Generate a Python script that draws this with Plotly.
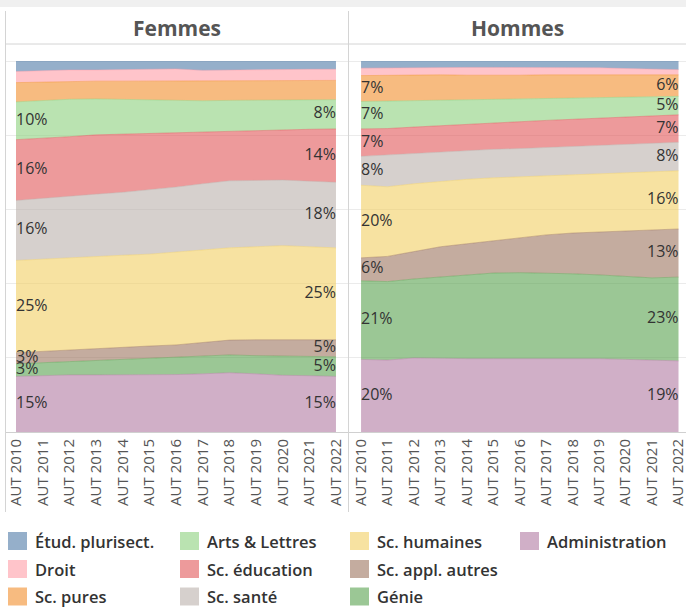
import plotly.graph_objects as go

# ---------------- data ----------------
years = list(range(2010, 2023))
tick_labels = [f"AUT {y}" for y in years]

# categories, bottom of stack first
categories = ["Administration", "Génie", "Sc. appl. autres", "Sc. humaines", "Sc. santé",
              "Sc. éducation", "Arts & Lettres", "Sc. pures", "Droit", "Étud. plurisect."]
base_colors = ["#b07aa1", "#59a14f", "#9c755f", "#f1ce63", "#bab0ac",
               "#e15759", "#8cd17d", "#f28e2b", "#ff9da7", "#4e79a7"]

femmes_admin   = [15.0, 15.3, 15.4, 15.4, 15.4, 15.4, 15.5, 15.7, 16.0, 15.7, 15.3, 15.2, 15.0]
femmes_genie   = [3.4, 3.5, 3.6, 3.9, 4.2, 4.5, 4.7, 4.8, 4.8, 4.9, 5.2, 5.2, 5.3]
femmes_appl    = [3.0, 3.0, 3.2, 3.3, 3.3, 3.3, 3.3, 3.6, 4.0, 4.3, 4.4, 4.5, 4.6]
femmes_hum     = [24.9, 24.9, 24.8, 24.8, 24.8, 24.8, 25.1, 25.1, 24.9, 25.1, 25.4, 25.1, 24.8]
femmes_sante   = [16.2, 16.4, 16.7, 16.8, 17.0, 17.3, 17.5, 17.8, 18.1, 17.9, 17.7, 17.7, 17.7]
femmes_educ    = [16.4, 16.1, 16.0, 16.0, 15.7, 15.4, 14.8, 14.1, 13.4, 13.5, 13.5, 14.0, 14.4]
femmes_arts    = [10.2, 10.3, 10.1, 9.7, 9.4, 8.9, 8.5, 8.3, 8.3, 8.2, 8.1, 8.0, 7.9]
femmes_pures   = [5.2, 5.0, 4.8, 4.8, 4.9, 5.1, 5.3, 5.3, 5.3, 5.2, 5.3, 5.2, 5.2]
femmes_droit   = [3.0, 3.1, 3.1, 3.0, 3.1, 3.2, 3.3, 2.9, 2.9, 3.1, 3.0, 3.0, 3.0]
femmes_pluri   = [2.7, 2.4, 2.3, 2.3, 2.2, 2.1, 2.0, 2.4, 2.3, 2.1, 2.1, 2.1, 2.1]

hommes_admin   = [19.6, 19.4, 20.0, 19.8, 19.8, 19.8, 19.8, 19.8, 20.0, 19.8, 19.6, 19.4, 19.2]
hommes_genie   = [21.2, 21.2, 21.3, 22.1, 22.7, 23.1, 23.2, 23.1, 22.7, 22.6, 22.4, 22.2, 22.6]
hommes_appl    = [6.2, 6.8, 7.4, 8.1, 8.3, 8.7, 9.5, 10.3, 11.0, 11.6, 12.3, 13.0, 13.0]
hommes_hum     = [19.6, 18.8, 18.3, 17.7, 17.4, 17.0, 16.4, 16.0, 15.7, 15.7, 15.7, 15.6, 15.7]
hommes_sante   = [7.8, 8.6, 8.3, 8.0, 7.8, 7.7, 7.6, 7.6, 7.6, 7.6, 7.6, 7.7, 7.7]
hommes_educ    = [7.4, 7.1, 7.0, 7.0, 7.1, 7.2, 7.3, 7.3, 7.4, 7.4, 7.4, 7.4, 7.4]
hommes_arts    = [7.4, 7.4, 7.1, 6.9, 6.7, 6.4, 6.2, 6.0, 5.8, 5.6, 5.4, 5.2, 5.0]
hommes_pures   = [7.0, 7.0, 7.0, 6.8, 6.5, 6.3, 6.3, 6.3, 6.2, 6.1, 6.0, 5.9, 5.8]
hommes_droit   = [2.0, 2.0, 1.9, 2.0, 2.1, 2.2, 2.1, 2.0, 1.9, 1.9, 1.7, 1.5, 1.4]
hommes_pluri   = [1.8, 1.7, 1.7, 1.6, 1.6, 1.6, 1.6, 1.6, 1.7, 1.7, 1.9, 2.1, 2.2]

femmes = [femmes_admin, femmes_genie, femmes_appl, femmes_hum, femmes_sante,
          femmes_educ, femmes_arts, femmes_pures, femmes_droit, femmes_pluri]
hommes = [hommes_admin, hommes_genie, hommes_appl, hommes_hum, hommes_sante,
          hommes_educ, hommes_arts, hommes_pures, hommes_droit, hommes_pluri]

panel_titles = ["Femmes", "Hommes"]
labelled_femmes = ["Administration", "Génie", "Sc. appl. autres", "Sc. humaines",
                   "Sc. santé", "Sc. éducation", "Arts & Lettres"]
labelled_hommes = labelled_femmes + ["Sc. pures"]

# ---------------- helpers ----------------
def rgba(hexc, a):
    h = hexc.lstrip("#")
    r, g, b = int(h[0:2], 16), int(h[2:4], 16), int(h[4:6], 16)
    return f"rgba({r},{g},{b},{a})"

W, H = 686, 608
ML, MR, MT, MB = 5, 0, 44, 176
PW = W - ML - MR
PH = H - MT - MB
Y100_PX = 61.5
YTOP = 100 * PH / (MT + PH - Y100_PX)

def px_x(x):
    return (x - ML) / PW

def px_y(y):
    return 1 - (y - MT) / PH

FONT = "Open Sans"
fig = go.Figure()

panels = [(femmes, labelled_femmes, "x", "y", "f"), (hommes, labelled_hommes, "x2", "y2", "h")]
for data, labelled, xa, ya, grp in panels:
    totals = [sum(s[i] for s in data) for i in range(len(years))]
    norm = [[v / totals[i] * 100 for i, v in enumerate(s)] for s in data]
    for k, cat in enumerate(categories):
        fig.add_trace(go.Scatter(
            x=years, y=data[k], stackgroup=grp, groupnorm="percent" if k == 0 else None,
            mode="lines", line=dict(width=0.8, color=rgba(base_colors[k], 0.55)),
            fillcolor=rgba(base_colors[k], 0.6), name=cat, showlegend=False,
            xaxis=xa, yaxis=ya, hoverinfo="skip"))
    # labels
    cum = [0.0] * len(years)
    mids = []
    for k in range(len(categories)):
        m = [cum[i] + norm[k][i] / 2 for i in range(len(years))]
        cum = [cum[i] + norm[k][i] for i in range(len(years))]
        mids.append(m)
    for idx, pos in ((0, "middle right"), (-1, "middle left")):
        xs, ys, ts = [], [], []
        for k, cat in enumerate(categories):
            if cat in labelled:
                xs.append(years[idx])
                ys.append(mids[k][idx])
                ts.append(f"{round(norm[k][idx])}%")
        fig.add_trace(go.Scatter(
            x=xs, y=ys, text=ts, mode="text", textposition=pos,
            textfont=dict(family=FONT, size=16, color="#333333"),
            showlegend=False, xaxis=xa, yaxis=ya, hoverinfo="skip", cliponaxis=False))

axis_common = dict(tickmode="array", tickvals=years, ticktext=tick_labels, tickangle=-90,
                   tickfont=dict(family=FONT, size=15, color="#555555"),
                   ticklabeloverflow="allow",
                   showgrid=False, zeroline=False, showline=True, linecolor="#d0d0d0",
                   linewidth=1, ticks="", fixedrange=True)
yaxis_common = dict(range=[0, YTOP], tickvals=[0, 20, 40, 60, 80, 100], showticklabels=False,
                    showgrid=True, gridcolor="#ebebeb", gridwidth=1, zeroline=False,
                    showline=False, ticks="", fixedrange=True)

split = px_x(348.5)
fig.update_layout(
    width=W, height=H, margin=dict(l=ML, r=MR, t=MT, b=MB),
    paper_bgcolor="white", plot_bgcolor="white",
    xaxis=dict(domain=[0, split - 0.0008], range=[2009.5875, 2022.45], anchor="y", **axis_common),
    xaxis2=dict(domain=[split + 0.0008, 1], range=[2009.546, 2022.283], anchor="y2", **axis_common),
    yaxis=dict(domain=[0, 1], anchor="x", **yaxis_common),
    yaxis2=dict(domain=[0, 1], anchor="x2", **yaxis_common),
    showlegend=False,
)

shapes = []
annotations = []
# top grey band
shapes.append(dict(type="rect", xref="paper", yref="paper", x0=px_x(0), x1=px_x(W),
                   y0=px_y(7), y1=px_y(0), fillcolor="#f0f0f0", line=dict(width=0), layer="below"))
# header bottom line
shapes.append(dict(type="line", xref="paper", yref="paper", x0=px_x(5), x1=px_x(W),
                   y0=px_y(44), y1=px_y(44), line=dict(color="#d4d4d4", width=1)))
# vertical borders
for xpx in (5.5, 348.5):
    shapes.append(dict(type="line", xref="paper", yref="paper", x0=px_x(xpx), x1=px_x(xpx),
                       y0=px_y(512), y1=px_y(11), line=dict(color="#d4d4d4", width=1)))
# panel titles
for title, cx in zip(panel_titles, (176.5, 517.5)):
    annotations.append(dict(text=f"<b>{title}</b>", xref="paper", yref="paper",
                            x=px_x(cx), y=px_y(28), showarrow=False, xanchor="center", yanchor="middle",
                            font=dict(family=FONT, size=21, color="#555555")))
# manual legend (column-major, top of stack first)
legend_order = list(range(len(categories)))[::-1]
col_x = [8, 180, 350, 520]
row_y = [541, 569, 596.5]
for n, k in enumerate(legend_order):
    c, r = n // 3, n % 3
    x0, yc = col_x[c], row_y[r]
    shapes.append(dict(type="rect", xref="paper", yref="paper",
                       x0=px_x(x0), x1=px_x(x0 + 19), y0=px_y(yc + 9), y1=px_y(yc - 9),
                       fillcolor=rgba(base_colors[k], 0.6), line=dict(width=0)))
    annotations.append(dict(text=categories[k], xref="paper", yref="paper",
                            x=px_x(x0 + 25), y=px_y(yc), showarrow=False,
                            xanchor="left", yanchor="middle",
                            font=dict(family=FONT, size=16.5, color="#333333", weight=600)))

fig.update_layout(shapes=shapes, annotations=annotations)
fig.write_html("out.html", config={"displayModeBar": False},
               post_script="document.body.style.margin='0px';document.body.style.overflow='hidden';")
